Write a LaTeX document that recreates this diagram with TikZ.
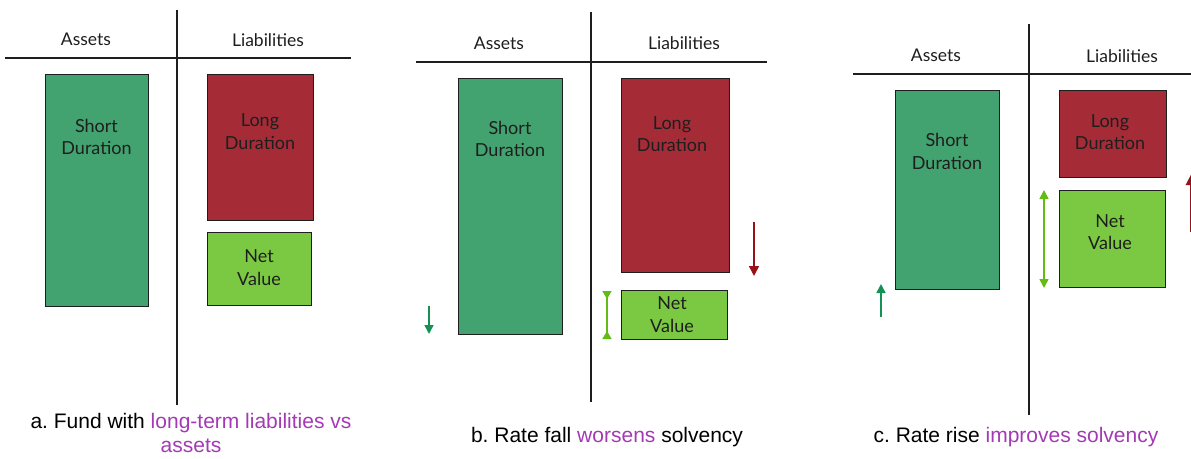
\documentclass[tikz,border=0pt]{standalone}
\usepackage{fontspec}
\setmainfont{Liberation Sans}
\newfontfamily\lblfont{Lato}
\usetikzlibrary{arrows.meta}
\frenchspacing
\definecolor{sgreen}{RGB}{67,163,112}
\definecolor{lred}{RGB}{165,44,55}
\definecolor{nvgreen}{RGB}{123,200,67}
\definecolor{purp}{RGB}{163,58,180}
\definecolor{arrgreen}{RGB}{20,145,85}
\definecolor{arrred}{RGB}{150,18,24}
\definecolor{arrlime}{RGB}{98,188,20}
\definecolor{ink}{RGB}{30,30,30}
\begin{document}
\begin{tikzpicture}[x=1pt,y=-1pt,
  axisline/.style={line width=1.4pt, ink},
  hdr/.style={font=\lblfont\fontsize{17.5}{20}\selectfont, text=ink, inner sep=0pt},
  boxtxt/.style={font=\lblfont\fontsize{18}{22.5}\selectfont, text=ink, align=center, inner sep=0pt},
  boxbase/.style={draw=ink, line width=1.3pt, anchor=north west, inner sep=0pt},
  sdbox/.style={boxbase, fill=sgreen},
  ldbox/.style={boxbase, fill=lred},
  nvbox/.style={boxbase, fill=nvgreen},
  captxt/.style={font=\fontsize{21}{24}\selectfont, text=black, align=center, inner sep=0pt},
  garrow/.style={line width=1.6pt, arrgreen, -{Triangle[width=9pt,length=9pt]}},
  rarrow/.style={line width=1.6pt, arrred, -{Triangle[width=10pt,length=10pt]}},
  limeout/.style={line width=1.6pt, arrlime, {Triangle[width=9pt,length=9pt]}-{Triangle[width=9pt,length=9pt]}},
  limein/.style={line width=1.6pt, arrlime, {Triangle[reversed,width=9pt,length=8pt]}-{Triangle[reversed,width=9pt,length=8pt]}},
]
\useasboundingbox (0,0) rectangle (1191,458);

% ---------------- Panel a ----------------
\coordinate (av1) at (177,10); \coordinate (av2) at (177,405);
\coordinate (ah1) at (5,58);   \coordinate (ah2) at (351,58);
\draw[axisline] (av1) -- (av2);
\draw[axisline] (ah1) -- (ah2);
\node[hdr] (aA) at (86,39) {Assets};
\node[hdr] (aL) at (268,40) {Liabilities};
\node[sdbox, minimum width=103pt, minimum height=232pt] (aSD) at (45,74) {};
\node[boxtxt] (aSDt) at (96.5,137) {Short\\Duration};
\node[ldbox, minimum width=106pt, minimum height=146pt] (aLD) at (207,74) {};
\node[boxtxt] (aLDt) at (260,131.5) {Long\\Duration};
\node[nvbox, minimum width=104pt, minimum height=73pt] (aNV) at (207,232) {};
\node[boxtxt] (aNVt) at (259,267.5) {Net\\Value};
\node[captxt] (aCap) at (191,433) {a. Fund with \textcolor{purp}{long-term liabilities vs}\\\textcolor{purp}{assets}};

% ---------------- Panel b ----------------
\coordinate (bv1) at (591,12); \coordinate (bv2) at (591,402);
\coordinate (bh1) at (416,62); \coordinate (bh2) at (767,62);
\draw[axisline] (bv1) -- (bv2);
\draw[axisline] (bh1) -- (bh2);
\node[hdr] (bA) at (499,43) {Assets};
\node[hdr] (bL) at (684,43) {Liabilities};
\node[sdbox, minimum width=104pt, minimum height=256pt] (bSD) at (458,78) {};
\node[boxtxt] (bSDt) at (510,139) {Short\\Duration};
\node[ldbox, minimum width=108pt, minimum height=194pt] (bLD) at (621,78) {};
\node[boxtxt] (bLDt) at (672,134) {Long\\Duration};
\node[nvbox, minimum width=106pt, minimum height=49pt] (bNV) at (621,290) {};
\node[boxtxt] (bNVt) at (672,314.5) {Net\\Value};
\coordinate (bra1) at (754,222); \coordinate (bra2) at (754,276);
\draw[rarrow] (bra1) -- (bra2);
\coordinate (bga1) at (429,306); \coordinate (bga2) at (429,334);
\draw[garrow] (bga1) -- (bga2);
\coordinate (bla1) at (607,291); \coordinate (bla2) at (607,339);
\draw[limein] (bla1) -- (bla2);
\node[captxt] (bCap) at (607,437) {b. Rate fall \textcolor{purp}{worsens} solvency};

% ---------------- Panel c ----------------
\coordinate (cv1) at (1029,24); \coordinate (cv2) at (1029,415);
\coordinate (ch1) at (853,74);  \coordinate (ch2) at (1191,74);
\draw[axisline] (cv1) -- (cv2);
\draw[axisline] (ch1) -- (ch2);
\node[hdr] (cA) at (936,55) {Assets};
\node[hdr] (cL) at (1122,56) {Liabilities};
\node[sdbox, minimum width=104pt, minimum height=199pt] (cSD) at (895,90) {};
\node[boxtxt] (cSDt) at (947,151.5) {Short\\Duration};
\node[ldbox, minimum width=107pt, minimum height=87pt] (cLD) at (1059,90) {};
\node[boxtxt] (cLDt) at (1110,132) {Long\\Duration};
\node[nvbox, minimum width=106pt, minimum height=97pt] (cNV) at (1059,190) {};
\node[boxtxt] (cNVt) at (1110,232) {Net\\Value};
\coordinate (cga1) at (881,317); \coordinate (cga2) at (881,284);
\draw[garrow] (cga1) -- (cga2);
\coordinate (cla1) at (1044,190); \coordinate (cla2) at (1044,288);
\draw[limeout] (cla1) -- (cla2);
\coordinate (cra1) at (1190.8,232); \coordinate (cra2) at (1190.8,175);
\draw[rarrow] (cra1) -- (cra2);
\node[captxt] (cCap) at (1016,437) {c. Rate rise \textcolor{purp}{improves solvency}};
\end{tikzpicture}
\end{document}
